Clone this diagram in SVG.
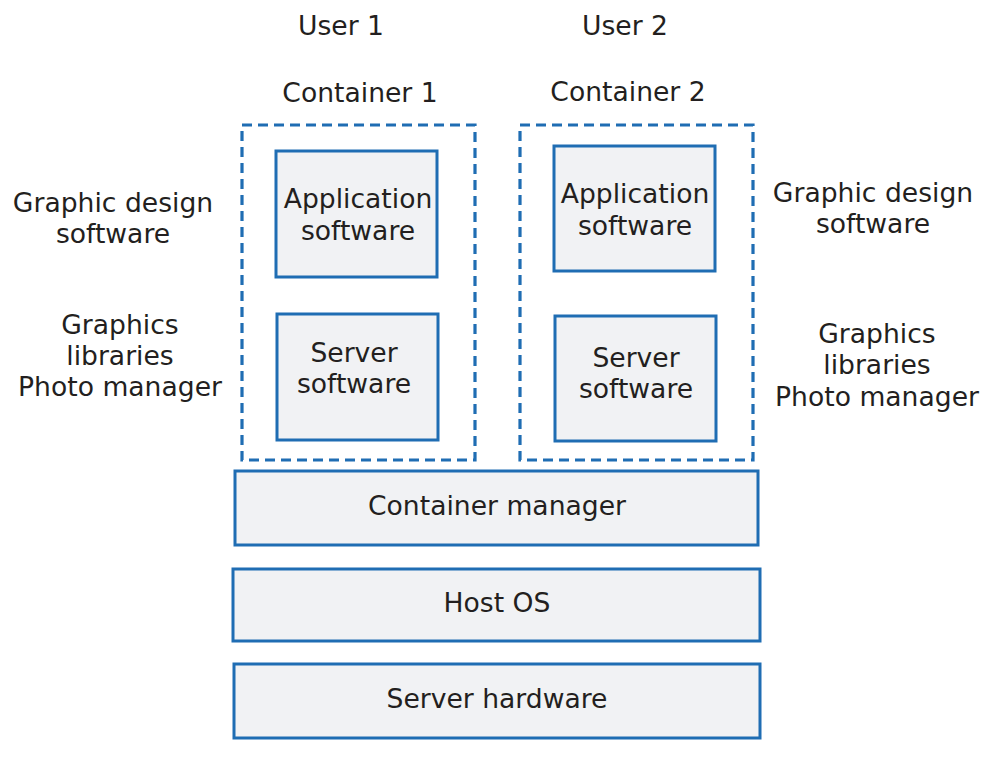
<svg xmlns="http://www.w3.org/2000/svg" width="1006" height="761" viewBox="0 0 1006 761">
<style>
text{font-family:"DejaVu Sans","Verdana",sans-serif;font-size:26.6px;fill:#231f20;text-anchor:middle}
.box{fill:#f1f2f4;stroke:#1f6db3;stroke-width:3}
.dash{fill:none;stroke:#1f6db3;stroke-width:3.2;stroke-dasharray:10 6}
</style>
<rect width="1006" height="761" fill="#fff"/>
<g id="labels">
<text x="341" y="35">User 1</text>
<text x="625" y="35">User 2</text>
<text x="113" y="212">Graphic design</text>
<text x="113" y="243">software</text>
<text x="120" y="334">Graphics</text>
<text x="120" y="365">libraries</text>
<text x="120" y="396">Photo manager</text>
<text x="873" y="202">Graphic design</text>
<text x="873" y="233">software</text>
<text x="877" y="343">Graphics</text>
<text x="877" y="374">libraries</text>
<text x="877" y="406">Photo manager</text>
</g>
<g id="container1">
<rect class="dash" x="242" y="125" width="233" height="335"/>
<text x="360" y="102">Container 1</text>
</g>
<g id="container2">
<rect class="dash" x="520" y="125" width="233" height="335"/>
<text x="628" y="101">Container 2</text>
</g>
<g id="app1">
<rect class="box" x="276" y="151" width="161" height="126"/>
<text x="358" y="208">Application</text>
<text x="358" y="240">software</text>
</g>
<g id="server1">
<rect class="box" x="277" y="314" width="161" height="126"/>
<text x="354" y="362">Server</text>
<text x="354" y="393">software</text>
</g>
<g id="app2">
<rect class="box" x="554" y="146" width="161" height="125"/>
<text x="635" y="203">Application</text>
<text x="635" y="235">software</text>
</g>
<g id="server2">
<rect class="box" x="555" y="316" width="161" height="125"/>
<text x="636" y="367">Server</text>
<text x="636" y="398">software</text>
</g>
<g id="containerManager">
<rect class="box" x="235" y="471" width="523" height="74"/>
<text x="497" y="515">Container manager</text>
</g>
<g id="hostOS">
<rect class="box" x="233" y="569" width="527" height="72"/>
<text x="497" y="612">Host OS</text>
</g>
<g id="serverHardware">
<rect class="box" x="234" y="664" width="526" height="74"/>
<text x="497" y="708">Server hardware</text>
</g>
<g id="connectors"></g>
</svg>
